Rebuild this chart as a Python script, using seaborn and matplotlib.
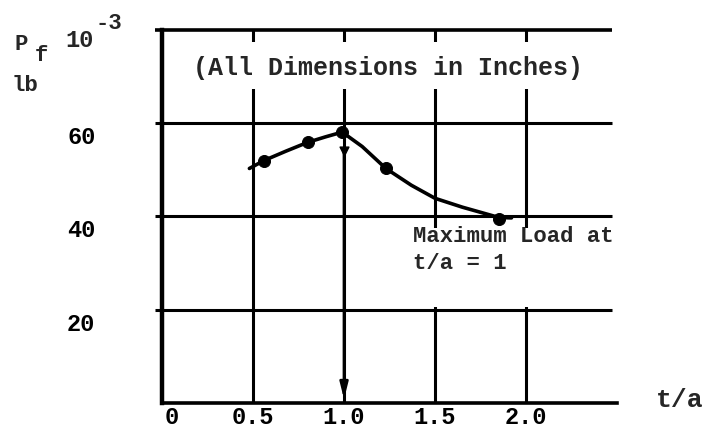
import matplotlib
matplotlib.use("Agg")
import matplotlib.pyplot as plt
import matplotlib.transforms as mtransforms
from matplotlib.patches import Rectangle
import seaborn as sns

# ------------------------------------------------------------------------------
# Data
# ------------------------------------------------------------------------------
# faired curve traced through the test points
curve_x = [0.48, 0.56, 0.68, 0.80, 0.90, 0.99, 1.10, 1.23, 1.37, 1.50, 1.65, 1.75, 1.85, 1.92]
curve_y = [50.3, 52.0, 54.0, 55.9, 57.1, 58.1, 55.0, 50.3, 46.7, 43.9, 42.0, 40.9, 39.8, 39.7]

# measured points
pt_x = [0.56, 0.80, 0.99, 1.23, 1.85]
pt_y = [52.0, 55.9, 58.1, 50.3, 39.4]

xtick_pos = [0, 0.5, 1.0, 1.5, 2.0]
xtick_lab = ["0", "0.5", "1.0", "1.5", "2.0"]
ytick_pos = [20, 40, 60]
ytick_lab = ["20", "40", "60"]
grid_x = [0.5, 1.0, 1.5, 2.0]
grid_y = [20, 40, 60]

# ------------------------------------------------------------------------------
# Plot
# ------------------------------------------------------------------------------
sns.set_theme(style="white")
plt.rcParams['font.family'] = ['Liberation Mono', 'DejaVu Sans Mono']
plt.rcParams['font.weight'] = 'bold'

fig = plt.figure(figsize=(7.15, 4.36), dpi=100)
ax = fig.add_axes([0.2266, 0.0757, 0.6364, 0.8555])
ax.set_xlim(0, 2.5)
ax.set_ylim(0, 80)

for s in ["top", "right"]:
    ax.spines[s].set_visible(False)
ax.spines["left"].set_linewidth(3.2)
ax.spines["bottom"].set_linewidth(2.6)
for s in ["left", "bottom"]:
    ax.spines[s].set_color("black")

# grid and top frame line
ax.hlines(grid_y, -0.04, 2.47, color="black", lw=2.2, clip_on=False, zorder=1)
ax.hlines(80, -0.04, 2.47, color="black", lw=2.6, clip_on=False, zorder=1)
ax.vlines(grid_x, 0, 80, color="black", lw=2.2, zorder=1)

# white patches behind the lettering
ax.add_patch(Rectangle((0.03, 67.3), 2.42, 10.1, facecolor="white", edgecolor="none", zorder=2))
ax.add_patch(Rectangle((1.30, 20.6), 1.17, 17.0, facecolor="white", edgecolor="none", zorder=2))

sns.lineplot(x=curve_x, y=curve_y, sort=False, color="black", lw=2.6, ax=ax, zorder=4)
sns.scatterplot(x=pt_x, y=pt_y, color="black", s=75, edgecolor="black", ax=ax, zorder=5)

# arrow marking the maximum load
ax.annotate("", xy=(1.0, 0.8), xytext=(1.0, 54),
            arrowprops=dict(arrowstyle="-|>,head_width=0.2,head_length=0.8",
                            color="black", lw=2.0, shrinkA=0, shrinkB=0), zorder=5)
ax.scatter([1.0], [54], marker="v", s=40, color="black", zorder=5)

ax.text(1.24, 71.8, "(All Dimensions in Inches)", ha="center", va="center",
        fontsize=18, zorder=3)
ax.text(1.38, 32.8, "Maximum Load at\nt/a = 1", ha="left", va="center",
        fontsize=16, linespacing=1.4, zorder=3)

# ticks
ax.set_xticks(xtick_pos)
ax.set_xticklabels(xtick_lab, fontsize=17)
ax.set_yticks(ytick_pos)
ax.set_yticklabels(ytick_lab, fontsize=17)
ax.tick_params(axis="x", length=0, pad=2, colors="black")
ax.tick_params(axis="y", length=0, pad=48, colors="black")
ax.set_xlabel("")
ax.set_ylabel("")

dy = mtransforms.ScaledTranslation(0, -12 / 100, fig.dpi_scale_trans)
for lab in ax.get_yticklabels():
    lab.set_transform(lab.get_transform() + dy)
dx = mtransforms.ScaledTranslation(10 / 100, 0, fig.dpi_scale_trans)
first = ax.get_xticklabels()[0]
first.set_transform(first.get_transform() + dx)

# axis titles
fig.text(0.918, 0.083, "t/a", fontsize=19, ha="left", va="center")
fig.text(0.020, 0.897, "P", fontsize=16, ha="left", va="center")
fig.text(0.048, 0.872, "f", fontsize=16, ha="left", va="center")
fig.text(0.092, 0.906, "10", fontsize=17, ha="left", va="center")
fig.text(0.134, 0.945, "-3", fontsize=16, ha="left", va="center")
fig.text(0.016, 0.805, "lb", fontsize=16, ha="left", va="center")

fig.savefig("out.png", dpi=100)
